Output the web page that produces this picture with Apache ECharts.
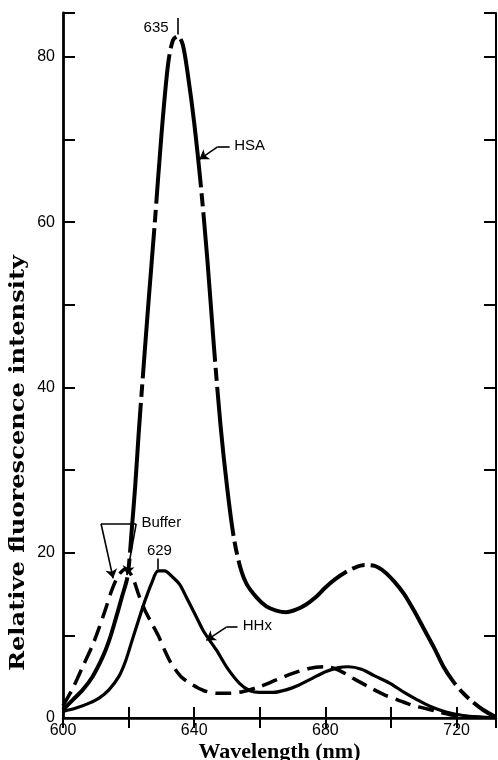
<!DOCTYPE html>
<html>
<head>
<meta charset="utf-8">
<style>html,body{margin:0;padding:0;background:#fff}#c{width:498px;height:760px}</style>
<script src="https://cdn.jsdelivr.net/npm/echarts@6/dist/echarts.min.js"></script>
</head>
<body>
<div id="c"></div>
<script>
// ---- data ----
const hsaWl  = [600,603,606,609,612,614,616,618,619.7,621,622,623,624,626,628,630,632,633.5,635,636.5,638,640,642,644,646,648,650,652,654,656,659,662,665,668,671,674,677,680,683,686,689,692,695,698,701,704,707,710,713,716,719,722,725,728,732];
const hsaVal = [1.0,2.2,3.4,5.0,7.3,9.3,11.9,14.7,17.2,23,28,34,39.5,50,60,70.5,79,82,82.5,81.5,78,72,64.5,55.5,45,35.5,28,22,18.3,16.2,14.6,13.5,13.0,12.8,13.1,13.7,14.6,15.8,16.8,17.6,18.2,18.5,18.4,17.7,16.5,15.0,13.0,10.8,8.6,6.2,4.4,3.0,1.9,1.0,0.1];

const hhxWl  = [600,604,608,611,614,617,619,621,623,625,627,629,631,633,635.5,638,640.7,643,646.8,650,653.8,657,660,664,668,672,676,680,684,687,691,695,699.7,704,708,712,717,722,728,732];
const hhxVal = [0.8,1.2,1.8,2.4,3.4,5.0,6.8,9.3,11.8,14.2,16.3,17.8,17.8,17.2,16.2,14.3,12.2,10.4,8.2,6.1,4.2,3.3,3.1,3.1,3.4,4.0,4.8,5.6,6.1,6.2,5.9,5.1,4.2,3.1,2.2,1.4,0.7,0.3,0.1,0];

const bufWl  = [600,603,606,609,611,613,615,617,619,621,623,625,627,629,631,633,636,639.5,643,647,651,655,660,665,670,675,680,684,688,693,698,702,706,710,714,718,722,726,730];
const bufVal = [1.5,3.6,6.2,8.8,10.9,13.2,15.6,17.3,18.0,17.2,15.0,13.0,11.5,10.0,8.2,6.6,5.0,4.0,3.3,3.0,3.0,3.2,3.8,4.6,5.4,6.0,6.2,5.8,4.9,3.8,2.8,2.2,1.6,1.2,0.8,0.4,0.2,0.1,0];

const xLabels = [600, 640, 680, 720];
const yLabels = [0, 20, 40, 60, 80];

const zip = (a, b) => a.map((v, i) => [v, b[i]]);

// ---- annotations (data coordinates) ----
const annotLines = [
  [[611.6, 23.5], [622.3, 23.5], false],
  [[611.6, 23.5], [615.3, 16.9], true],
  [[622.3, 23.5], [619.5, 17.3], true],
  [[650.8, 69.1], [647.1, 69.1], false],
  [[647.1, 69.1], [641.6, 67.6], true],
  [[653.2, 11.0], [649.8, 11.0], false],
  [[649.8, 11.0], [643.7, 9.4], true],
  [[635, 82.7], [635, 84.7], false],
  [[629, 18.0], [629, 19.3], false]
];
const annotTexts = [
  ['635', [632.2, 83.5], 'left'],
  ['629', [629.4, 20.2], 'inside'],
  ['Buffer', [623.9, 23.6], 'right'],
  ['HSA', [652.2, 69.2], 'right'],
  ['HHx', [654.8, 11.1], 'right']
];

const tickFont = {color: '#000', fontFamily: 'Liberation Sans', fontSize: 16};

const chart = echarts.init(document.getElementById('c'), null, {renderer: 'canvas'});
const option = {
  animation: false,
  backgroundColor: '#fff',
  grid: {left: 63, right: 2, top: 13, bottom: 42, containLabel: false, outerBoundsMode: 'none'},
  xAxis: [{
    type: 'value', min: 600, max: 732, interval: 20,
    name: 'Wavelength (nm)', nameLocation: 'middle', nameGap: 23, nameMoveOverlap: false,
    nameTextStyle: {color: '#000', fontFamily: 'Liberation Serif', fontWeight: 'bold', fontSize: 22},
    axisLine: {lineStyle: {color: '#000', width: 2.5}},
    axisTick: {inside: true, length: 11, lineStyle: {color: '#000', width: 2}},
    axisLabel: Object.assign({margin: 5, formatter: v => xLabels.includes(v) ? String(v) : ''}, tickFont),
    splitLine: {show: false}
  }, {
    type: 'value', position: 'top', min: 600, max: 732, interval: 20,
    axisLine: {show: true, lineStyle: {color: '#000', width: 2}},
    axisTick: {inside: true, length: 10, lineStyle: {color: '#000', width: 2}},
    axisLabel: {show: false}, splitLine: {show: false}
  }],
  yAxis: [{
    type: 'value', min: 0, max: 85.3, interval: 10,
    axisLine: {show: true, lineStyle: {color: '#000', width: 2.8}},
    axisTick: {inside: true, length: 12, lineStyle: {color: '#000', width: 2}},
    axisLabel: Object.assign({margin: 8, formatter: v => yLabels.includes(v) ? String(v) : ''}, tickFont),
    splitLine: {show: false}
  }, {
    type: 'value', position: 'right', min: 0, max: 85.3, interval: 10,
    axisLine: {show: true, lineStyle: {color: '#000', width: 2}},
    axisTick: {inside: true, length: 12, lineStyle: {color: '#000', width: 2}},
    axisLabel: {show: false}, splitLine: {show: false}
  }],
  graphic: [{
    type: 'text', x: 19, y: 463, rotation: Math.PI / 2, scaleX: 1.15,
    style: {text: 'Relative fluorescence intensity', align: 'center', verticalAlign: 'middle',
      font: 'bold 21px "DejaVu Serif"', fill: '#000'}
  }],
  series: [{
    name: 'HSA', type: 'line', data: zip(hsaWl, hsaVal), smooth: 0.3, showSymbol: false,
    lineStyle: {color: '#000', width: 4, type: [150, 6, 13, 6], cap: 'butt'},
    markLine: {
      silent: true, symbol: ['none', 'none'], symbolSize: 9,
      label: {show: false},
      lineStyle: {color: '#000', width: 1.6, type: 'solid'},
      data: annotLines.map(l => [
        {coord: l[0], symbol: 'none'},
        {coord: l[1], symbol: l[2] ? 'arrow' : 'none', symbolSize: 9}
      ])
    },
    markPoint: {
      silent: true, symbol: 'circle', symbolSize: 0,
      data: annotTexts.map(t => ({
        coord: t[1],
        label: {show: true, formatter: t[0], position: t[2], distance: 0,
          color: '#000', fontFamily: 'Liberation Sans', fontSize: 15}
      }))
    }
  }, {
    name: 'HHx', type: 'line', data: zip(hhxWl, hhxVal), smooth: 0.3, showSymbol: false,
    lineStyle: {color: '#000', width: 3.2, type: 'solid'}
  }, {
    name: 'Buffer', type: 'line', data: zip(bufWl, bufVal), smooth: 0.3, showSymbol: false,
    lineStyle: {color: '#000', width: 3.5, type: [16, 8], cap: 'butt'}
  }]
};
chart.setOption(option);
</script>
</body>
</html>
